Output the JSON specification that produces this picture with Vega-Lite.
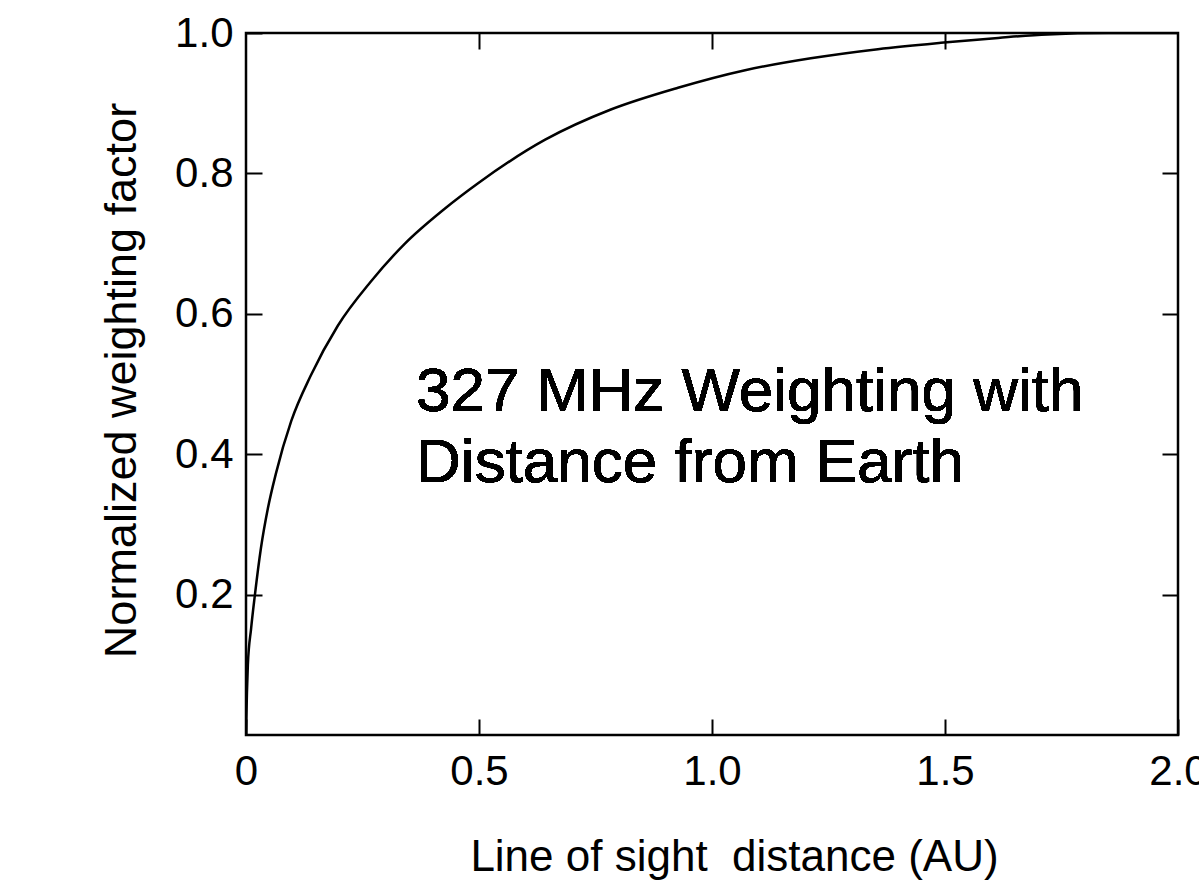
{
  "$schema": "https://vega.github.io/schema/vega-lite/v6.json",
  "width": 932,
  "height": 702,
  "autosize": {"type": "none"},
  "padding": {"left": 246, "top": 33, "right": 21, "bottom": 151},
  "background": "white",
  "config": {
    "view": {"stroke": "black", "strokeWidth": 2.5},
    "font": "Liberation Sans",
    "axis": {
      "domain": false,
      "grid": false,
      "tickColor": "black",
      "tickWidth": 2,
      "tickSize": -16,
      "labelColor": "black",
      "titleColor": "black",
      "labelFont": "Liberation Sans",
      "titleFont": "Liberation Sans",
      "labelFontWeight": "normal",
      "titleFontWeight": "normal"
    }
  },
  "data": {
    "values": [
      {"d": 0, "w": 0},
      {"d": 0.002, "w": 0.06},
      {"d": 0.004, "w": 0.1},
      {"d": 0.011, "w": 0.152},
      {"d": 0.019, "w": 0.199},
      {"d": 0.032, "w": 0.266},
      {"d": 0.047, "w": 0.323},
      {"d": 0.064, "w": 0.372},
      {"d": 0.097, "w": 0.447},
      {"d": 0.139, "w": 0.512},
      {"d": 0.197, "w": 0.583},
      {"d": 0.268, "w": 0.646},
      {"d": 0.341, "w": 0.7},
      {"d": 0.427, "w": 0.75},
      {"d": 0.498, "w": 0.786},
      {"d": 0.642, "w": 0.848},
      {"d": 0.783, "w": 0.891},
      {"d": 0.927, "w": 0.922},
      {"d": 1.071, "w": 0.947},
      {"d": 1.212, "w": 0.964},
      {"d": 1.356, "w": 0.977},
      {"d": 1.491, "w": 0.986},
      {"d": 1.614, "w": 0.993},
      {"d": 1.72, "w": 0.998},
      {"d": 1.85, "w": 1.0},
      {"d": 2.0, "w": 1.0}
    ]
  },
  "layer": [
    {
      "mark": {"type": "line", "color": "black", "strokeWidth": 2.5, "interpolate": "monotone", "clip": true},
      "encoding": {
        "x": {
          "field": "d", "type": "quantitative",
          "scale": {"domain": [0, 2], "nice": false, "zero": false},
          "axis": {
            "orient": "bottom",
            "values": [0, 0.5, 1, 1.5, 2],
            "labelExpr": "datum.value == 0 ? '0' : format(datum.value, '.1f')",
            "labelFontSize": 42,
            "labelPadding": 65,
            "labelBaseline": "alphabetic",
            "labelFlush": false,
            "labelOverlap": false,
            "title": "Line of sight \u00a0distance (AU)",
            "titleFontSize": 44,
            "titleX": 488,
            "titleY": 135,
            "titleAlign": "center",
            "titleAnchor": null,
            "titleBaseline": "alphabetic"
          }
        },
        "y": {
          "field": "w", "type": "quantitative",
          "scale": {"domain": [0, 1], "nice": false, "zero": false},
          "axis": {
            "orient": "left",
            "values": [0.2, 0.4, 0.6, 0.8, 1.0],
            "format": ".1f",
            "labelFontSize": 42,
            "labelPadding": 29,
            "labelBaseline": "middle",
            "labelFlush": false,
            "labelOverlap": false,
            "title": "Normalized weighting factor",
            "titleFontSize": 45,
            "titleAngle": -90,
            "titleX": -111,
            "titleY": 347,
            "titleAlign": "center",
            "titleAnchor": null,
            "titleBaseline": "alphabetic"
          }
        }
      }
    },
    {
      "mark": {
        "type": "text",
        "text": ["327 MHz Weighting with", "Distance from Earth"],
        "font": "Liberation Sans",
        "fontSize": 62,
        "lineHeight": 71,
        "align": "left",
        "baseline": "alphabetic",
        "color": "black"
      },
      "encoding": {
        "x": {
          "datum": 0.365, "type": "quantitative",
          "axis": {"orient": "top", "values": [0.5, 1, 1.5], "labels": false, "title": null}
        },
        "y": {
          "datum": 0.4615, "type": "quantitative",
          "axis": {"orient": "right", "values": [0.2, 0.4, 0.6, 0.8], "labels": false, "title": null}
        }
      }
    }
  ],
  "resolve": {"axis": {"x": "independent", "y": "independent"}}
}
